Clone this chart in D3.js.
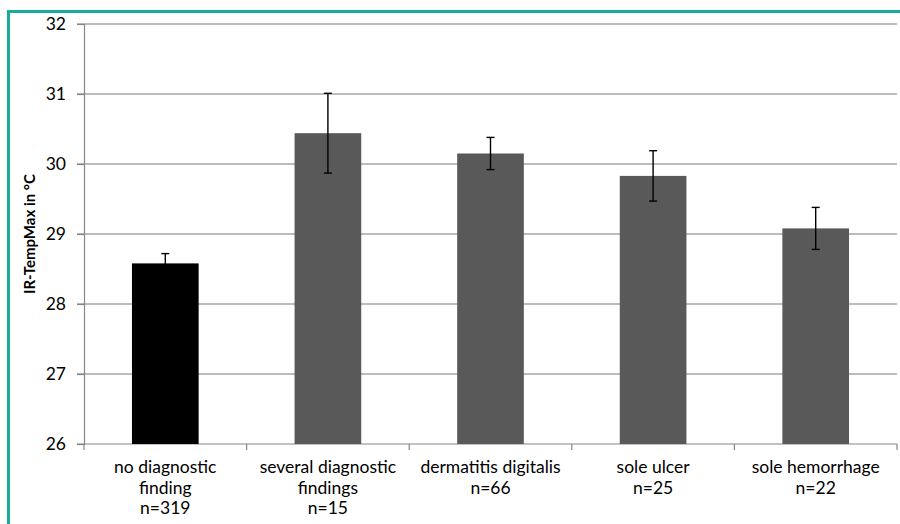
<!DOCTYPE html>
<html>
<head>
<meta charset="utf-8">
<script src="https://cdn.jsdelivr.net/npm/d3@7"></script>
<style>
  body { margin: 0; background: #fff; }
  svg { display: block; }
</style>
</head>
<body>
<div id="chart"></div>
<script>
// values
var categories = [
  ["no diagnostic", "finding", "n=319"],
  ["several diagnostic", "findings", "n=15"],
  ["dermatitis digitalis", "n=66"],
  ["sole ulcer", "n=25"],
  ["sole hemorrhage", "n=22"]
];
var means = [28.58, 30.44, 30.15, 29.83, 29.08];
var errors = [0.14, 0.57, 0.23, 0.36, 0.30];
var barColors = ["#000000", "#595959", "#595959", "#595959", "#595959"];
var yTicks = [26, 27, 28, 29, 30, 31, 32];

var width = 900, height = 524;
var plotLeft = 84, plotRight = 897, plotTop = 24, plotBottom = 444;

var svg = d3.select("#chart").append("svg")
  .attr("width", width).attr("height", height);

// teal frame
svg.append("rect")
  .attr("x", 8.5).attr("y", 11.5)
  .attr("width", 920).attr("height", 560)
  .attr("fill", "none")
  .attr("stroke", "#17ad98")
  .attr("stroke-width", 3);

var x = d3.scaleBand()
  .domain(d3.range(categories.length))
  .range([plotLeft, plotRight])
  .paddingInner(0.59)
  .paddingOuter(0.295);

var y = d3.scaleLinear().domain([26, 32]).range([plotBottom, plotTop]);

// gridlines
svg.append("g").selectAll("line")
  .data(yTicks.slice(1))
  .enter().append("line")
  .attr("x1", plotLeft - 7).attr("x2", plotRight)
  .attr("y1", function(d) { return y(d); })
  .attr("y2", function(d) { return y(d); })
  .attr("stroke", "#a6a6a6")
  .attr("stroke-width", 1.5);

// y axis
var yAxis = svg.append("g")
  .attr("transform", "translate(" + plotLeft + ",0)")
  .call(d3.axisLeft(y).tickValues(yTicks).tickFormat(d3.format("d")).tickSize(7).tickPadding(11));
yAxis.select(".domain").attr("stroke", "#868686").attr("stroke-width", 1.2);
yAxis.selectAll(".tick line").attr("stroke", "#868686").attr("stroke-width", 1.2);
yAxis.selectAll("text")
  .attr("font-family", "Lato, 'Open Sans', sans-serif")
  .attr("font-size", 17.5)
  .attr("fill", "#000");

// x axis
var xEdges = d3.range(categories.length + 1).map(function(i) {
  return plotLeft + i * (plotRight - plotLeft) / categories.length;
});
svg.append("line")
  .attr("x1", plotLeft - 7).attr("x2", plotRight)
  .attr("y1", plotBottom).attr("y2", plotBottom)
  .attr("stroke", "#868686").attr("stroke-width", 1.2);
svg.append("g").selectAll("line")
  .data(xEdges)
  .enter().append("line")
  .attr("x1", function(d) { return d; })
  .attr("x2", function(d) { return d; })
  .attr("y1", plotBottom).attr("y2", plotBottom + 6)
  .attr("stroke", "#868686").attr("stroke-width", 1.2);

// bars
svg.append("g").selectAll("rect")
  .data(means)
  .enter().append("rect")
  .attr("x", function(d, i) { return x(i); })
  .attr("width", x.bandwidth())
  .attr("y", function(d) { return y(d); })
  .attr("height", function(d) { return y(26) - y(d); })
  .attr("fill", function(d, i) { return barColors[i]; });

// error bars
var eb = svg.append("g").selectAll("g")
  .data(means)
  .enter().append("g")
  .attr("stroke", "#000")
  .attr("stroke-width", 1.4);
eb.append("line")
  .attr("x1", function(d, i) { return x(i) + x.bandwidth() / 2; })
  .attr("x2", function(d, i) { return x(i) + x.bandwidth() / 2; })
  .attr("y1", function(d, i) { return y(d + errors[i]); })
  .attr("y2", function(d, i) { return y(d - errors[i]); });
eb.append("line")
  .attr("x1", function(d, i) { return x(i) + x.bandwidth() / 2 - 4; })
  .attr("x2", function(d, i) { return x(i) + x.bandwidth() / 2 + 4; })
  .attr("y1", function(d, i) { return y(d + errors[i]); })
  .attr("y2", function(d, i) { return y(d + errors[i]); });
eb.append("line")
  .attr("x1", function(d, i) { return x(i) + x.bandwidth() / 2 - 4; })
  .attr("x2", function(d, i) { return x(i) + x.bandwidth() / 2 + 4; })
  .attr("y1", function(d, i) { return y(d - errors[i]); })
  .attr("y2", function(d, i) { return y(d - errors[i]); });

// category labels
var labels = svg.append("g").selectAll("text")
  .data(categories)
  .enter().append("text")
  .attr("text-anchor", "middle")
  .attr("font-family", "Lato, 'Open Sans', sans-serif")
  .attr("font-size", 17.5)
  .attr("fill", "#000")
  .attr("x", function(d, i) { return x(i) + x.bandwidth() / 2; })
  .attr("y", 473);
labels.selectAll("tspan")
  .data(function(d) { return d; })
  .enter().append("tspan")
  .attr("x", function() { return this.parentNode.getAttribute("x"); })
  .attr("dy", function(d, i) { return i === 0 ? 0 : 20.5; })
  .text(function(d) { return d; });

// y axis title
svg.append("text")
  .attr("transform", "translate(35," + ((plotTop + plotBottom) / 2) + ") rotate(-90)")
  .attr("text-anchor", "middle")
  .attr("font-family", "Lato, 'Open Sans', sans-serif")
  .attr("font-weight", "bold")
  .attr("font-size", 15)
  .attr("fill", "#000")
  .text("IR-TempMax in °C");
</script>
</body>
</html>
